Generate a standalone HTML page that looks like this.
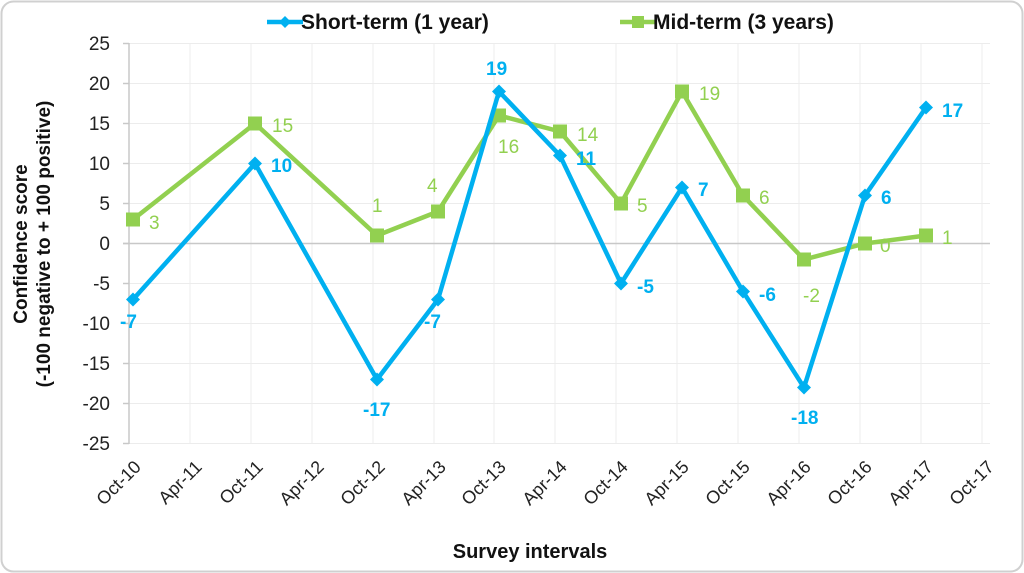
<!DOCTYPE html>
<html><head><meta charset="utf-8"><style>
body{margin:0;background:#fff;}
svg{display:block;font-family:"Liberation Sans",sans-serif;}
</style></head><body>
<svg width="1024" height="573" viewBox="0 0 1024 573">
<rect x="1.5" y="1.5" width="1021" height="570" rx="12" fill="#fff" stroke="#d0d0d0" stroke-width="2"/>
<g stroke="#ececec" stroke-width="1">
<line x1="129" y1="43.5" x2="990" y2="43.5"/><line x1="129" y1="83.5" x2="990" y2="83.5"/><line x1="129" y1="123.5" x2="990" y2="123.5"/><line x1="129" y1="163.5" x2="990" y2="163.5"/><line x1="129" y1="203.5" x2="990" y2="203.5"/><line x1="129" y1="283.5" x2="990" y2="283.5"/><line x1="129" y1="323.5" x2="990" y2="323.5"/><line x1="129" y1="363.5" x2="990" y2="363.5"/><line x1="129" y1="403.5" x2="990" y2="403.5"/><line x1="129" y1="443.5" x2="990" y2="443.5"/>
<line x1="190" y1="43" x2="190" y2="444"/><line x1="251" y1="43" x2="251" y2="444"/><line x1="312" y1="43" x2="312" y2="444"/><line x1="373" y1="43" x2="373" y2="444"/><line x1="434" y1="43" x2="434" y2="444"/><line x1="494" y1="43" x2="494" y2="444"/><line x1="555" y1="43" x2="555" y2="444"/><line x1="616" y1="43" x2="616" y2="444"/><line x1="677" y1="43" x2="677" y2="444"/><line x1="738" y1="43" x2="738" y2="444"/><line x1="799" y1="43" x2="799" y2="444"/><line x1="860" y1="43" x2="860" y2="444"/><line x1="921" y1="43" x2="921" y2="444"/><line x1="982" y1="43" x2="982" y2="444"/>
</g>
<g stroke="#c8c8c8" stroke-width="1.5">
<line x1="129" y1="43" x2="129" y2="444"/>
<line x1="123" y1="43.5" x2="129" y2="43.5"/><line x1="123" y1="83.5" x2="129" y2="83.5"/><line x1="123" y1="123.5" x2="129" y2="123.5"/><line x1="123" y1="163.5" x2="129" y2="163.5"/><line x1="123" y1="203.5" x2="129" y2="203.5"/><line x1="123" y1="243.5" x2="129" y2="243.5"/><line x1="123" y1="283.5" x2="129" y2="283.5"/><line x1="123" y1="323.5" x2="129" y2="323.5"/><line x1="123" y1="363.5" x2="129" y2="363.5"/><line x1="123" y1="403.5" x2="129" y2="403.5"/><line x1="123" y1="443.5" x2="129" y2="443.5"/>
<line x1="123" y1="243.5" x2="990" y2="243.5"/>
</g>
<g font-size="19" fill="#222" text-anchor="end">
<text x="110" y="50">25</text><text x="110" y="90">20</text><text x="110" y="130">15</text><text x="110" y="170">10</text><text x="110" y="210">5</text><text x="110" y="250">0</text><text x="110" y="290">-5</text><text x="110" y="330">-10</text><text x="110" y="370">-15</text><text x="110" y="410">-20</text><text x="110" y="450">-25</text>
</g>
<g font-size="18" fill="#222" text-anchor="end">
<text transform="translate(142,468) rotate(-45)">Oct-10</text>
<text transform="translate(203,468) rotate(-45)">Apr-11</text>
<text transform="translate(264,468) rotate(-45)">Oct-11</text>
<text transform="translate(325,468) rotate(-45)">Apr-12</text>
<text transform="translate(386,468) rotate(-45)">Oct-12</text>
<text transform="translate(447,468) rotate(-45)">Apr-13</text>
<text transform="translate(507,468) rotate(-45)">Oct-13</text>
<text transform="translate(568,468) rotate(-45)">Apr-14</text>
<text transform="translate(629,468) rotate(-45)">Oct-14</text>
<text transform="translate(690,468) rotate(-45)">Apr-15</text>
<text transform="translate(751,468) rotate(-45)">Oct-15</text>
<text transform="translate(812,468) rotate(-45)">Apr-16</text>
<text transform="translate(873,468) rotate(-45)">Oct-16</text>
<text transform="translate(934,468) rotate(-45)">Apr-17</text>
<text transform="translate(995,468) rotate(-45)">Oct-17</text>
</g>
<text x="530" y="558" font-size="20" font-weight="bold" fill="#111" text-anchor="middle">Survey intervals</text>
<g font-size="19" font-weight="bold" fill="#111" text-anchor="middle">
<text transform="translate(27,244) rotate(-90)">Confidence score</text>
<text transform="translate(50,244) rotate(-90)">(-100 negative to + 100 positive)</text>
</g>
<polyline fill="none" stroke="#92d050" stroke-width="4.5" points="133,219.5 255,123.5 377,235.5 438,211.5 499,115.5 560,131.5 621,203.5 682,91.5 743,195.5 804,259.5 865,243.5 926,235.5"/>
<g fill="#92d050"><rect x="126" y="212.5" width="14" height="14"/><rect x="248" y="116.5" width="14" height="14"/><rect x="370" y="228.5" width="14" height="14"/><rect x="431" y="204.5" width="14" height="14"/><rect x="492" y="108.5" width="14" height="14"/><rect x="553" y="124.5" width="14" height="14"/><rect x="614" y="196.5" width="14" height="14"/><rect x="675" y="84.5" width="14" height="14"/><rect x="736" y="188.5" width="14" height="14"/><rect x="797" y="252.5" width="14" height="14"/><rect x="858" y="236.5" width="14" height="14"/><rect x="919" y="228.5" width="14" height="14"/></g>
<polyline fill="none" stroke="#00b0f0" stroke-width="4.5" points="133,299.5 255,163.5 377,379.5 438,299.5 499,91.5 560,155.5 621,283.5 682,187.5 743,291.5 804,387.5 865,195.5 926,107.5"/>
<g fill="#00b0f0">
<path d="M133,292.5l7,7l-7,7l-7,-7z"/><path d="M255,156.5l7,7l-7,7l-7,-7z"/><path d="M377,372.5l7,7l-7,7l-7,-7z"/><path d="M438,292.5l7,7l-7,7l-7,-7z"/><path d="M499,84.5l7,7l-7,7l-7,-7z"/><path d="M560,148.5l7,7l-7,7l-7,-7z"/><path d="M621,276.5l7,7l-7,7l-7,-7z"/><path d="M682,180.5l7,7l-7,7l-7,-7z"/><path d="M743,284.5l7,7l-7,7l-7,-7z"/><path d="M804,380.5l7,7l-7,7l-7,-7z"/><path d="M865,188.5l7,7l-7,7l-7,-7z"/><path d="M926,100.5l7,7l-7,7l-7,-7z"/>
</g>
<g font-size="19" fill="#92d050">
<text x="149" y="229">3</text><text x="272" y="132">15</text><text x="372" y="212">1</text><text x="427" y="192">4</text><text x="498" y="153">16</text><text x="577" y="141">14</text><text x="637" y="212">5</text><text x="699" y="100">19</text><text x="759" y="204">6</text><text x="803" y="302">-2</text><text x="880" y="252">0</text><text x="942" y="244">1</text>
</g>
<g font-size="19" font-weight="bold" fill="#00b0f0">
<text x="120" y="328">-7</text><text x="271" y="172">10</text><text x="363" y="416">-17</text><text x="424" y="328">-7</text><text x="486" y="75">19</text><text x="576" y="165">11</text><text x="637" y="293">-5</text><text x="698" y="196">7</text><text x="759" y="301">-6</text><text x="791" y="424">-18</text><text x="881" y="204">6</text><text x="942" y="117">17</text>
</g>
<line x1="267" y1="22" x2="303" y2="22" stroke="#00b0f0" stroke-width="4.5"/>
<path d="M285,16l6,6l-6,6l-6,-6z" fill="#00b0f0"/>
<text x="301" y="29" font-size="21" font-weight="bold" fill="#111">Short-term (1 year)</text>
<line x1="620" y1="22" x2="655" y2="22" stroke="#92d050" stroke-width="4.5"/>
<rect x="632" y="16" width="12" height="12" fill="#92d050"/>
<text x="653" y="29" font-size="21" font-weight="bold" fill="#111">Mid-term (3 years)</text>
</svg>
</body></html>
